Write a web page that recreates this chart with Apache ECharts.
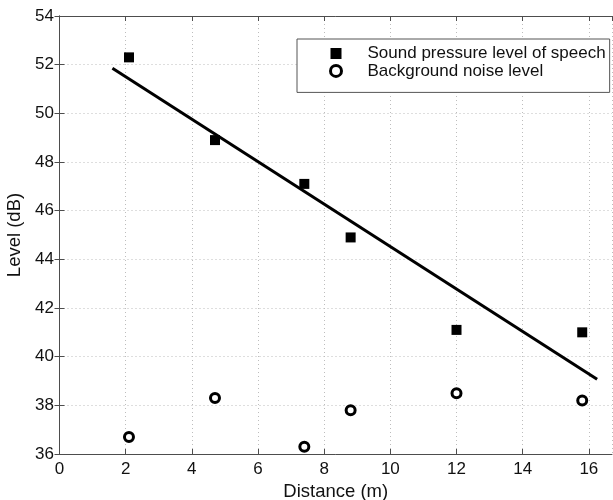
<!DOCTYPE html>
<html>
<head>
	<meta charset="UTF-8" />
	<title></title>
	<style type="text/css">
		* {
			margin: 0;
			padding: 0;
		}

		#main {
			width: 613px;
			height: 500px;
			background-color: #fff;
		}
	</style>
</head>
<body>
	<div id="main"></div>
</body>
<script src="https://cdn.jsdelivr.net/npm/echarts@6/dist/echarts.min.js"></script>
<script type="text/javascript">
	// distance (m) of each measuring point
	var distance = [2.1, 4.7, 7.4, 8.8, 12.0, 15.8]
	// sound pressure level of speech (dB)
	var speechLevel = [52.3, 48.9, 47.1, 44.9, 41.1, 41.0]
	// background noise level (dB)
	var noiseLevel = [36.7, 38.3, 36.3, 37.8, 38.5, 38.2]
	// end points of the fitted line
	var fitX = [1.6, 16.25]
	var fitY = [51.85, 39.07]

	var seriesNames = ['Sound pressure level of speech', 'Background noise level']

	function pairs(xs, ys) {
		return xs.map(function (x, i) {
			return [x, ys[i]]
		})
	}

	var font = 'Liberation Sans, Arial, Helvetica, sans-serif'
	var axisColor = '#4d4d4d'
	var gridLine = {
		show: true,
		lineStyle: {
			color: '#bdbdbd',
			width: 1,
			type: [1, 3]
		}
	}

	var myChart = echarts.init(document.getElementById('main'))

	var option = {
		backgroundColor: '#fff',
		animation: false,
		grid: {
			left: 59.5,
			right: 1,
			top: 16,
			bottom: 46,
			outerBoundsMode: 'none'
		},
		legend: {
			data: [{
				name: seriesNames[0]
			}, {
				name: seriesNames[1],
				itemStyle: { borderWidth: 3, borderColor: '#000', color: '#fff' }
			}],
			orient: 'vertical',
			left: 297,
			top: 39,
			padding: [6, 4, 13, 32],
			itemGap: 0.4,
			itemWidth: 11,
			itemHeight: 11,
			borderColor: '#555',
			borderWidth: 1,
			backgroundColor: '#fff',
			textStyle: {
				fontFamily: font,
				fontSize: 17,
				lineHeight: 17,
				color: '#111',
				padding: [0, 0, 0, 21]
			}
		},
		xAxis: [{
			type: 'value',
			min: 0,
			max: 16.7,
			interval: 2,
			name: 'Distance (m)',
			nameLocation: 'middle',
			nameGap: 27,
			nameTextStyle: {
				fontFamily: font,
				fontSize: 18.5,
				color: '#111'
			},
			axisLine: { show: true, lineStyle: { color: axisColor, width: 1 } },
			axisTick: { show: true, inside: true, length: 5, lineStyle: { color: axisColor } },
			axisLabel: {
				fontFamily: font,
				fontSize: 17,
				color: '#111',
				margin: 7,
				showMaxLabel: false
			},
			splitLine: gridLine
		}, {
			type: 'value',
			position: 'top',
			min: 0,
			max: 16.7,
			interval: 2,
			axisLine: { show: true, lineStyle: { color: axisColor, width: 1 } },
			axisTick: { show: true, inside: true, length: 5, lineStyle: { color: axisColor } },
			axisLabel: { show: false },
			splitLine: { show: false }
		}],
		yAxis: [{
			type: 'value',
			min: 36,
			max: 54,
			interval: 2,
			name: 'Level (dB)',
			nameLocation: 'middle',
			nameGap: 32.5,
			nameTextStyle: {
				fontFamily: font,
				fontSize: 18.5,
				color: '#111'
			},
			axisLine: { show: true, lineStyle: { color: axisColor, width: 1 } },
			axisTick: { show: true, inside: true, length: 5, lineStyle: { color: axisColor } },
			axisLabel: {
				fontFamily: font,
				fontSize: 17,
				color: '#111',
				margin: 5.5
			},
			splitLine: gridLine
		}, {
			type: 'value',
			position: 'right',
			min: 36,
			max: 54,
			interval: 2,
			axisLine: { show: true, lineStyle: { color: axisColor, width: 1 } },
			axisTick: { show: true, inside: true, length: 5, lineStyle: { color: axisColor } },
			axisLabel: { show: false },
			splitLine: { show: false }
		}],
		series: [{
			name: seriesNames[0],
			type: 'scatter',
			symbol: 'rect',
			symbolSize: 10,
			itemStyle: {
				color: '#000',
				opacity: 1
			},
			data: pairs(distance, speechLevel)
		}, {
			name: seriesNames[1],
			type: 'scatter',
			symbol: 'circle',
			symbolSize: 9,
			itemStyle: {
				color: '#fff',
				borderColor: '#000',
				borderWidth: 3,
				opacity: 1
			},
			data: pairs(distance, noiseLevel)
		}, {
			name: 'fit',
			type: 'line',
			showSymbol: false,
			z: 3,
			lineStyle: {
				color: '#000',
				width: 3
			},
			data: pairs(fitX, fitY)
		}]
	}
	myChart.setOption(option)
</script>
</html>
